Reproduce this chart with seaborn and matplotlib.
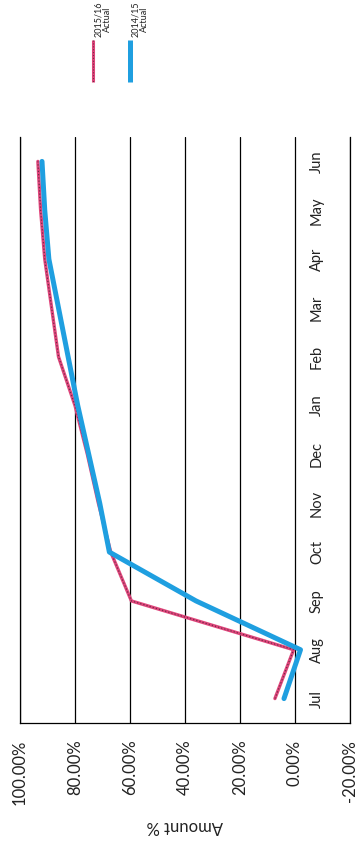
import matplotlib
matplotlib.use("Agg")
import matplotlib.pyplot as plt
from matplotlib.lines import Line2D
from matplotlib.ticker import PercentFormatter, FixedLocator
from matplotlib.transforms import offset_copy
import numpy as np
import seaborn as sns

# Financial year months, July to June
months = ["Jul", "Aug", "Sep", "Oct", "Nov", "Dec",
          "Jan", "Feb", "Mar", "Apr", "May", "Jun"]

# Cumulative amount (%) per month
actual_2015_16 = [7.3, 0.5, 59.5, 67.0, 71.5, 75.5, 80.0, 86.0, 88.5, 91.0, 92.5, 93.5]
actual_2014_15 = [4.0, -2.0, 36.0, 67.5, 71.0, 75.0, 79.0, 82.5, 86.0, 89.5, 91.0, 92.0]

value_ticks = [100, 80, 60, 40, 20, 0, -20]
series_labels = ["2015/16\nActual", "2014/15\nActual"]

PINK = "#e0457b"
GRAIN = "#4a2535"
BLUE = "#1f9fe0"

sns.set_theme(style="white")
plt.rcParams["font.family"] = ["Lato", "DejaVu Sans"]
plt.rcParams["axes.unicode_minus"] = False

W, H = 358, 844
fig = plt.figure(figsize=(W / 100, H / 100), dpi=100)
fig.patch.set_facecolor("white")

left, right, top, bottom = 20, 350, 137, 723
ax = fig.add_axes([left / W, 1 - bottom / H, (right - left) / W, (bottom - top) / H])
ax.set_facecolor("white")

pos = np.arange(len(months))
red_vals = np.array(actual_2015_16) / 100
blue_vals = np.array(actual_2014_15) / 100

# 2015/16 series: pink line with darker print grain
sns.lineplot(x=red_vals, y=pos, ax=ax, orient="y", sort=False,
             color=PINK, linewidth=2.4, zorder=3)
sns.lineplot(x=red_vals, y=pos, ax=ax, orient="y", sort=False,
             color=GRAIN, linewidth=0.9, linestyle=(0, (1, 1.6)), alpha=0.75, zorder=4)
# 2014/15 series: thick blue line
sns.lineplot(x=blue_vals, y=pos, ax=ax, orient="y", sort=False,
             color=BLUE, linewidth=3.6, zorder=5)

ax.set_xlim(1.0, -0.2)
ax.set_ylim(-0.5, len(months) - 0.5)
ax.xaxis.set_major_locator(FixedLocator([v / 100 for v in value_ticks]))
ax.xaxis.set_major_formatter(PercentFormatter(xmax=1, decimals=2))
ax.set_yticks([])
ax.set_ylabel("")
ax.grid(axis="x", color="black", linewidth=0.9)
ax.grid(axis="y", visible=False)
ax.tick_params(axis="x", labelrotation=90, length=0, pad=12, labelsize=12, colors="#222222")

for side in ("left", "right", "bottom"):
    ax.spines[side].set_visible(True)
    ax.spines[side].set_color("black")
    ax.spines[side].set_linewidth(0.9)
ax.spines["top"].set_visible(False)

ax.set_xlabel("Amount %", rotation=180, fontsize=12, labelpad=9, color="#222222")

# Month labels sit next to the 0% category axis
label_tf = offset_copy(ax.transData, fig=fig, x=22, y=0, units="dots")
for i, m in enumerate(months):
    ax.text(0, i, m, transform=label_tf, rotation=90, ha="center", va="center",
            fontsize=10.5, color="#222222")

# Legend above the plot, rotated with the chart
def legend_entry(x_line, x_text, color, lw, label, grain=False):
    fig.add_artist(Line2D([x_line / W] * 2, [1 - 40 / H, 1 - 82 / H],
                          transform=fig.transFigure, color=color, linewidth=lw,
                          solid_capstyle="butt"))
    if grain:
        fig.add_artist(Line2D([x_line / W] * 2, [1 - 40 / H, 1 - 82 / H],
                              transform=fig.transFigure, color=GRAIN, linewidth=0.8,
                              linestyle=(0, (1, 1.6)), alpha=0.75))
    fig.text(x_text / W, 1 - 37 / H, label, rotation=90, ha="center", va="bottom",
             fontsize=6.5, multialignment="center", linespacing=1.1, color="#222222")

legend_entry(93, 103, PINK, 2.2, series_labels[0], grain=True)
legend_entry(130, 140, BLUE, 3.6, series_labels[1])

fig.savefig("out.png", dpi=100, facecolor="white")
